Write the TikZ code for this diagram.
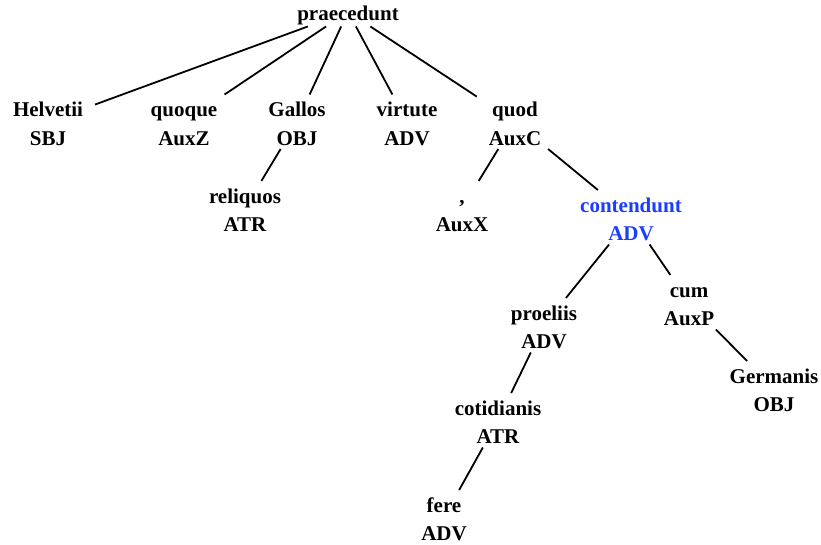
\documentclass[tikz,border=0pt]{standalone}
\usepackage{fontspec}
\setmainfont{Liberation Serif}
\usetikzlibrary{positioning}
\definecolor{headblue}{RGB}{26,61,255}
\newcommand{\lstrut}{\rule[-4pt]{0pt}{26pt}}

\begin{document}
\begin{tikzpicture}[x=1pt,y=-1pt,
  word/.style={anchor=north, align=center, inner xsep=12pt, inner ysep=0pt,
    outer sep=0pt, font=\fontsize{21}{28.5}\selectfont\bfseries},
  link/.style={line width=1.8pt}]
  \useasboundingbox (0,0) rectangle (821,544);
  % Wurzel
  \node[word, inner ysep=1.5pt] (root) at (348,-3) {\lstrut praecedunt};
  % erste Ebene
  \node[word] (helvetii) at (48,94.5)  {\lstrut Helvetii\\\lstrut SBJ};
  \node[word] (quoque)   at (184,94.5) {\lstrut quoque\\\lstrut AuxZ};
  \node[word] (gallos)   at (297,94.5) {\lstrut Gallos\\\lstrut OBJ};
  \node[word] (virtute)  at (407,94.5) {\lstrut virtute\\\lstrut ADV};
  \node[word] (quod)     at (515,94.5) {\lstrut quod\\\lstrut AuxC};
  % zweite Ebene
  \node[word] (reliquos) at (245,181) {\lstrut reliquos\\\lstrut ATR};
  \node[word] (comma)    at (462,181) {\lstrut ,\\\lstrut AuxX};
  \node[word, text=headblue] (contendunt) at (631,190) {\lstrut contendunt\\\lstrut ADV};
  % tiefere Ebenen
  \node[word] (proeliis)   at (544,298) {\lstrut proeliis\\\lstrut ADV};
  \node[word] (cum)        at (689,275) {\lstrut cum\\\lstrut AuxP};
  \node[word] (cotidianis) at (498,393) {\lstrut cotidianis\\\lstrut ATR};
  \node[word] (germanis)   at (774,361) {\lstrut Germanis\\\lstrut OBJ};
  \node[word] (fere)       at (444,490) {\lstrut fere\\\lstrut ADV};
  % Kanten
  \foreach \c in {helvetii,quoque,gallos,virtute,quod}
    \draw[link] (root) -- (\c);
  \draw[link] (gallos) -- (reliquos);
  \draw[link] (quod) -- (comma);
  \draw[link] (quod) -- (contendunt);
  \draw[link] (contendunt) -- (proeliis);
  \draw[link] (contendunt) -- (cum);
  \draw[link] (proeliis) -- (cotidianis);
  \draw[link] (cum) -- (germanis);
  \draw[link] (cotidianis) -- (fere);
\end{tikzpicture}
\end{document}
